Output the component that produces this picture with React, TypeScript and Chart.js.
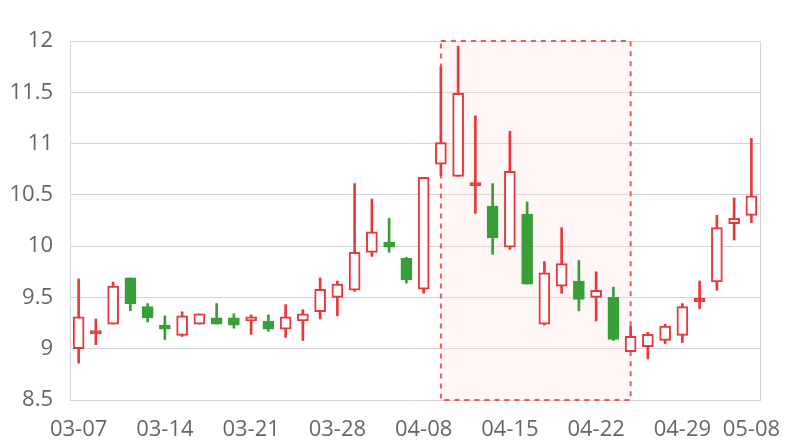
import React, { useEffect, useRef } from "react";
import { Chart, registerables } from "chart.js";

Chart.register(...registerables);

const dates = ['03-07','03-08','03-11','03-12','03-13','03-14','03-15','03-18','03-19','03-20','03-21','03-22','03-25','03-26','03-27','03-28','03-29','04-01','04-02','04-03','04-08','04-09','04-10','04-11','04-12','04-15','04-16','04-17','04-18','04-19','04-22','04-23','04-24','04-25','04-26','04-29','04-30','05-06','05-07','05-08'];
const openValues = [9.00,9.145,9.24,9.69,9.41,9.23,9.13,9.24,9.30,9.30,9.27,9.27,9.19,9.27,9.36,9.50,9.57,9.94,10.04,9.88,9.58,10.80,10.68,10.59,10.39,9.99,10.31,9.24,9.61,9.66,9.50,9.50,8.97,9.02,9.08,9.13,9.457,9.65,10.22,10.30];
const closeValues = [9.31,9.178,9.61,9.44,9.30,9.19,9.32,9.34,9.24,9.23,9.31,9.19,9.31,9.34,9.58,9.63,9.94,10.14,9.99,9.67,10.67,11.01,11.49,10.62,10.08,10.73,9.63,9.74,9.83,9.48,9.57,9.09,9.12,9.14,9.22,9.41,9.49,10.18,10.27,10.49];
const highValues = [9.68,9.29,9.65,9.69,9.44,9.32,9.36,9.34,9.44,9.34,9.33,9.33,9.43,9.38,9.69,9.66,10.61,10.46,10.27,9.89,10.67,11.75,11.95,11.27,10.61,11.12,10.43,9.85,10.18,9.86,9.75,9.60,9.22,9.16,9.24,9.44,9.66,10.30,10.47,11.05];
const lowValues = [8.86,9.04,9.24,9.37,9.26,9.09,9.12,9.24,9.24,9.20,9.14,9.17,9.11,9.08,9.29,9.32,9.56,9.90,9.94,9.64,9.54,10.69,10.68,10.32,9.92,9.97,9.63,9.23,9.54,9.37,9.27,9.08,8.97,8.90,9.05,9.06,9.39,9.57,10.06,10.23];
const shownTickIndexes = [0, 5, 10, 15, 20, 25, 30, 35, 39];
const highlightStart = '04-09';
const highlightEnd = '04-24';

const RED = '#e8383d';
const GREEN = '#389e38';
const GRID = '#d4d4d4';
const TEXT = '#666666';
const FONT = "'Open Sans', sans-serif";

const regionPlugin = {
  id: 'region',
  beforeDatasetsDraw(chart: any) {
    const { ctx, chartArea, scales } = chart;
    const x0 = scales.x.getPixelForValue(dates.indexOf(highlightStart));
    const x1 = scales.x.getPixelForValue(dates.indexOf(highlightEnd));
    ctx.save();
    ctx.fillStyle = 'rgba(255, 225, 225, 0.3)';
    ctx.fillRect(x0, chartArea.top, x1 - x0, chartArea.bottom - chartArea.top);
    ctx.setLineDash([5, 5]);
    ctx.lineWidth = 2;
    ctx.strokeStyle = 'rgba(238, 60, 60, 0.85)';
    ctx.strokeRect(x0, chartArea.top, x1 - x0, chartArea.bottom - chartArea.top);
    ctx.restore();
  },
  afterDraw(chart: any) {
    const { ctx, chartArea } = chart;
    ctx.save();
    ctx.strokeStyle = GRID;
    ctx.lineWidth = 1;
    ctx.beginPath();
    ctx.moveTo(Math.round(chartArea.right) + 0.5, chartArea.top);
    ctx.lineTo(Math.round(chartArea.right) + 0.5, chartArea.bottom);
    ctx.stroke();
    ctx.restore();
  },
};

export default function App() {
  const ref = useRef<HTMLCanvasElement>(null);
  useEffect(() => {
    if (!ref.current) return;
    const up = dates.map((_, i) => closeValues[i] >= openValues[i]);
    const doji = dates.map((_, i) => Math.abs(closeValues[i] - openValues[i]) < 0.035);
    const chart = new Chart(ref.current, {
      type: 'bar',
      data: {
        labels: dates,
        datasets: [
          {
            label: 'body',
            data: dates.map((_, i) => [openValues[i], closeValues[i]]) as any,
            backgroundColor: up.map((u, i) => (u ? (doji[i] ? RED : '#ffffff') : GREEN)),
            borderColor: up.map((u) => (u ? RED : GREEN)),
            borderWidth: up.map((u) => (u ? 2 : 1)) as any,
            borderSkipped: false,
            barThickness: 11,
            grouped: false,
          } as any,
          {
            label: 'wick',
            data: dates.map((_, i) => [lowValues[i], highValues[i]]) as any,
            backgroundColor: up.map((u) => (u ? RED : GREEN)),
            borderWidth: 0,
            barThickness: 2,
            grouped: false,
          } as any,
        ],
      },
      options: {
        responsive: false,
        animation: false,
        layout: { padding: { left: 0, right: 40, top: 41, bottom: 0 } },
        plugins: { legend: { display: false }, tooltip: { enabled: false } },
        scales: {
          x: {
            offset: true,
            grid: { display: false },
            border: { display: true, color: GRID, width: 1 },
            ticks: {
              autoSkip: false,
              maxRotation: 0,
              padding: 9,
              color: TEXT,
              font: { family: FONT, size: 22 },
              callback: (_v: any, i: number) => (shownTickIndexes.includes(i) ? dates[i] : ''),
            },
            afterFit: (s: any) => { s.height = 40; },
          },
          y: {
            min: 8.5,
            max: 12,
            grid: { color: GRID, drawTicks: false },
            border: { display: true, color: GRID, width: 1 },
            ticks: {
              stepSize: 0.5,
              padding: 17,
              color: TEXT,
              font: { family: FONT, size: 22 },
              callback: (v: any) => String(Number(v)),
            },
            afterFit: (s: any) => { s.width = 70; },
          },
        },
      },
      plugins: [regionPlugin],
    });
    return () => chart.destroy();
  }, []);
  return (
    <div style={{ position: 'absolute', left: 0, top: 0, width: 800, height: 440, background: '#fff' }}>
      <canvas ref={ref} width={800} height={440} style={{ display: 'block' }} />
    </div>
  );
}
